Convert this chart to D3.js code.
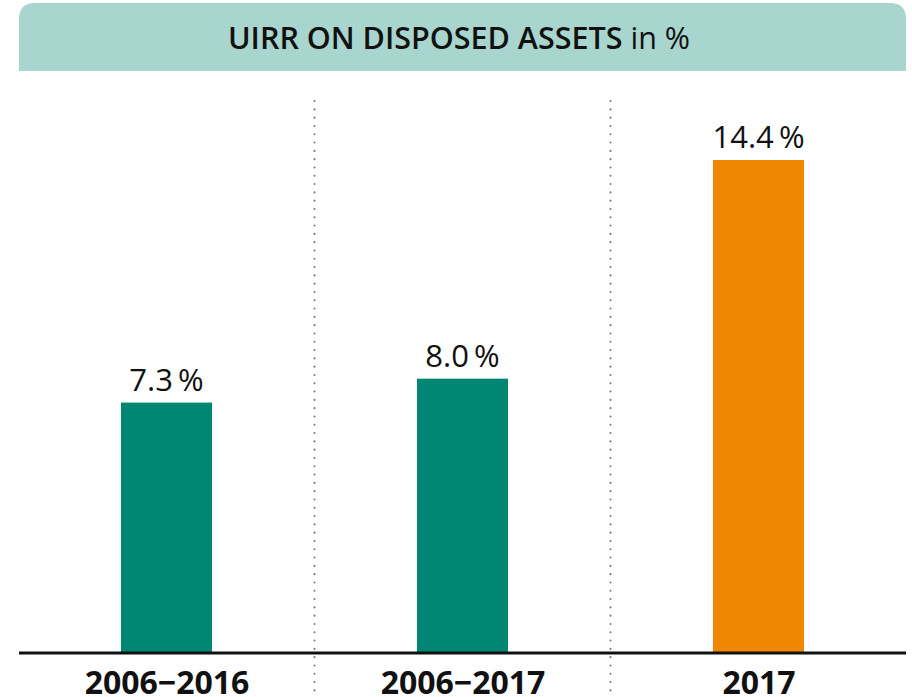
<!DOCTYPE html>
<html>
<head>
<meta charset="utf-8">
<script src="https://cdn.jsdelivr.net/npm/d3@7"></script>
<style>
    body { margin: 0; background: #fff; }
    svg { display: block; font-family: "Open Sans", sans-serif; }
</style>
</head>
<body>
<div id="chart"></div>
<script>
// data
var categories = ["2006\u22122016", "2006\u22122017", "2017"];
var values = [7.3, 8.0, 14.4];
var valueLabels = ["7.3\u2009%", "8.0\u2009%", "14.4\u2009%"];
var barColors = ["#008773", "#008773", "#ef8700"];

var width = 912;
var height = 697;

var svg = d3.select("#chart").append("svg")
    .attr("width", width)
    .attr("height", height);

// header banner, rounded on top only
var hx0 = 19, hx1 = 906, hy0 = 3, hy1 = 71, r = 16;
svg.append("path")
    .attr("d", "M" + hx0 + "," + hy1 +
        "V" + (hy0 + r) +
        "Q" + hx0 + "," + hy0 + " " + (hx0 + r) + "," + hy0 +
        "H" + (hx1 - r) +
        "Q" + hx1 + "," + hy0 + " " + hx1 + "," + (hy0 + r) +
        "V" + hy1 + "Z")
    .attr("fill", "#a8d5cd");

var title = svg.append("text")
    .attr("x", 459)
    .attr("y", 49)
    .attr("text-anchor", "middle")
    .attr("font-size", 30.5)
    .attr("fill", "#111");
title.append("tspan").attr("font-weight", 600).text("UIRR ON DISPOSED ASSETS");
title.append("tspan").text(" in %");

var x = d3.scalePoint()
    .domain(categories)
    .range([18.5, 906.5])
    .padding(0.5);

var y = d3.scaleLinear()
    .domain([0, 14.4])
    .range([652, 160]);

var barWidth = 91;
var step = x.step();

// dotted separators between categories
svg.selectAll("line.sep")
    .data(categories.slice(1))
    .enter()
    .append("line")
    .attr("class", "sep")
    .attr("x1", function (d) { return x(d) - step / 2; })
    .attr("x2", function (d) { return x(d) - step / 2; })
    .attr("y1", 101)
    .attr("y2", height)
    .attr("stroke", "#777")
    .attr("stroke-width", 2)
    .attr("stroke-linecap", "round")
    .attr("stroke-dasharray", "0.1 8.2");

svg.selectAll("rect.bar")
    .data(values)
    .enter()
    .append("rect")
    .attr("class", "bar")
    .attr("x", function (d, i) { return x(categories[i]) - barWidth / 2; })
    .attr("y", function (d) { return y(d); })
    .attr("width", barWidth)
    .attr("height", function (d) { return y(0) - y(d); })
    .attr("fill", function (d, i) { return barColors[i]; });

svg.selectAll("text.val")
    .data(values)
    .enter()
    .append("text")
    .attr("class", "val")
    .attr("x", function (d, i) { return x(categories[i]); })
    .attr("y", function (d) { return y(d) - 12; })
    .attr("text-anchor", "middle")
    .attr("font-size", 31)
    .attr("fill", "#111")
    .text(function (d, i) { return valueLabels[i]; });

// baseline
svg.append("line")
    .attr("x1", 19)
    .attr("x2", 906)
    .attr("y1", y(0) + 1)
    .attr("y2", y(0) + 1)
    .attr("stroke", "#111")
    .attr("stroke-width", 3);

var xAxis = svg.append("g")
    .attr("transform", "translate(0," + (y(0) + 2) + ")")
    .call(d3.axisBottom(x).tickSize(0).tickPadding(0));
xAxis.select(".domain").remove();
xAxis.selectAll("text")
    .attr("dy", null)
    .attr("y", 40)
    .attr("font-family", "'Open Sans', sans-serif")
    .attr("font-size", 32)
    .attr("font-weight", "bold")
    .attr("fill", "#111");
</script>
</body>
</html>
